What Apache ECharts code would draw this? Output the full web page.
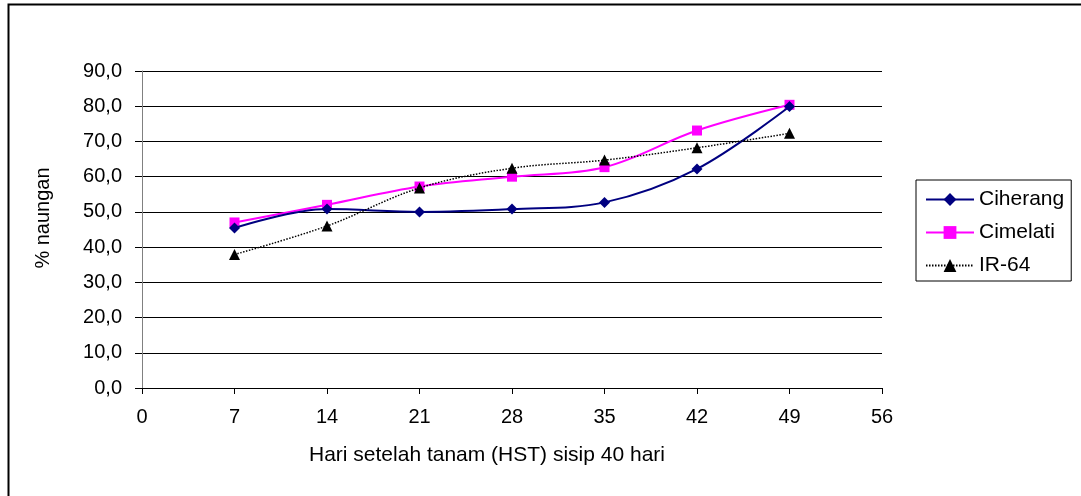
<!DOCTYPE html>
<html>
<head>
<meta charset="utf-8">
<script src="https://cdn.jsdelivr.net/npm/echarts@6/dist/echarts.min.js"></script>
<style>
html,body{margin:0;padding:0;background:#fff;}
#c{width:1081px;height:496px;}
</style>
</head>
<body>
<div id="c"></div>
<script>
var days = [7, 14, 21, 28, 35, 42, 49];
var ciherang = [45.4, 50.8, 50.0, 50.8, 52.7, 62.2, 79.9];
var cimelati = [47.0, 52.0, 57.2, 60.0, 62.7, 73.1, 80.4];
var ir64 = [37.9, 46.0, 56.8, 62.4, 64.7, 68.2, 72.3];
var seriesNames = ['Ciherang', 'Cimelati', 'IR-64'];
var xTitle = 'Hari setelah tanam (HST) sisip 40 hari';
var yTitle = '% naungan';

function pairs(ys){ return days.map(function(d,i){ return [d, ys[i]]; }); }
var FONT = 'Liberation Sans, Arial, sans-serif';

var chart = echarts.init(document.getElementById('c'));
chart.setOption({
  animation: false,
  backgroundColor: '#fff',
  textStyle: { fontFamily: FONT },
  graphic: [
    { type: 'rect', shape: { x: 8.5, y: 4.5, width: 1200, height: 600 },
      style: { fill: 'none', stroke: '#000', lineWidth: 2 }, z: 100 },
    { type: 'text', x: 43, y: 218, rotation: Math.PI / 2,
      style: { text: yTitle, font: '20px ' + FONT, fill: '#000', textAlign: 'center', textVerticalAlign: 'middle' } },
    { type: 'text', x: 487, y: 455,
      style: { text: xTitle, font: '21px ' + FONT, fill: '#000', textAlign: 'center', textVerticalAlign: 'middle' } }
  ],
  grid: { left: 142, top: 71, right: 199, bottom: 108 },
  legend: {
    orient: 'vertical', left: 916, top: 180,
    padding: [9, 7, 5, 9],
    borderColor: '#000', borderWidth: 1,
    itemWidth: 48, itemHeight: 16, itemGap: 12,
    textStyle: { fontSize: 21, fontFamily: FONT, color: '#000', lineHeight: 20, padding: [0, 0, 0, 0] },
    data: seriesNames
  },
  xAxis: {
    type: 'value', min: 0, max: 56, interval: 7,
    axisLine: { show: true, lineStyle: { color: '#000', width: 1 } },
    axisTick: { show: true, length: 6, lineStyle: { color: '#000' } },
    axisLabel: { fontSize: 20, color: '#000', margin: 19, fontFamily: FONT },
    splitLine: { show: false }
  },
  yAxis: {
    type: 'value', min: 0, max: 90, interval: 10,
    axisLine: { show: true, lineStyle: { color: '#808080', width: 1 } },
    axisTick: { show: true, length: 7, lineStyle: { color: '#000' } },
    axisLabel: { fontSize: 20, color: '#000', margin: 20, fontFamily: FONT,
      formatter: function(v){ return v.toFixed(1).replace('.', ','); } },
    splitLine: { show: true, lineStyle: { color: '#000', width: 1 } }
  },
  series: [
    { name: seriesNames[0], type: 'line', data: pairs(ciherang), smooth: 0.35,
      symbol: 'diamond', symbolSize: 11,
      lineStyle: { color: '#000080', width: 2 }, itemStyle: { color: '#000080' }, z: 3 },
    { name: seriesNames[1], type: 'line', data: pairs(cimelati), smooth: 0.35,
      symbol: 'rect', symbolSize: 10,
      lineStyle: { color: '#FF00FF', width: 2 }, itemStyle: { color: '#FF00FF' }, z: 2 },
    { name: seriesNames[2], type: 'line', data: pairs(ir64), smooth: 0.35,
      symbol: 'triangle', symbolSize: 11,
      lineStyle: { color: '#000', width: 1.5, type: [1.5, 1.5] }, itemStyle: { color: '#000' }, z: 4 }
  ]
});
</script>
</body>
</html>
